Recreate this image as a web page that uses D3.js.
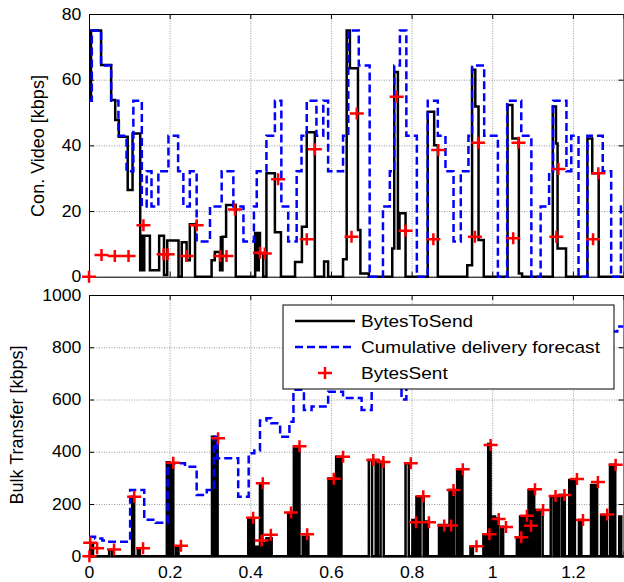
<!DOCTYPE html>
<html>
<head>
<meta charset="utf-8">
<script src="https://cdn.jsdelivr.net/npm/d3@7"></script>
<style>
  body { margin: 0; background: #fff; }
  svg { display: block; font-family: "Liberation Sans", Arial, sans-serif; }
</style>
</head>
<body>
<svg id="chart" width="624" height="582"></svg>
<script>
// ---- data (time in s, values in kbps) ----
// top panel: steps start at [t, value]
const videoToSend = [[0,53.6],[0.005,75],[0.030,64.5],[0.055,53.8],[0.065,47.7],[0.074,42.6],[0.096,26.4],[0.108,43.6],
  [0.127,2],[0.129,12.5],[0.131,2],[0.133,12.5],[0.135,2],[0.137,12.5],[0.151,2],[0.174,12.5],[0.186,0.5],[0.194,11],
  [0.222,0],[0.230,10.5],[0.242,5],[0.250,16],[0.263,0],[0.304,5],[0.312,7.5],[0.325,2],[0.327,12],[0.329,2],[0.331,12.2],
  [0.340,21.8],[0.364,0],[0.412,13.3],[0.415,2],[0.417,13.3],[0.419,2],[0.421,13.3],[0.424,7],[0.432,0],[0.440,31.5],
  [0.461,13.5],[0.476,0],[0.511,4.5],[0.528,15.2],[0.540,44],[0.560,0],[0.583,4.6],[0.593,0],[0.630,5.3],[0.639,75],
  [0.647,63.5],[0.667,14.2],[0.673,1],[0.694,0],[0.752,8.6],[0.757,62.3],[0.766,8.6],[0.770,19.3],[0.785,0],[0.840,50.2],
  [0.856,40],[0.865,0],[0.938,3.5],[0.950,63],[0.958,51.8],[0.966,11.2],[0.979,0],[1.038,52.3],[1.050,42.1],[1.066,1],
  [1.074,0],[1.150,51.8],[1.158,40.6],[1.162,8.6],[1.183,0],[1.236,42.1],[1.248,31.5],[1.264,0]];

const videoForecast = [[0,53.6],[0.007,75],[0.030,64.3],[0.055,53.6],[0.073,42.9],[0.093,32.1],[0.110,53.6],[0.131,21.4],
  [0.143,32.1],[0.155,21.4],[0.172,32.1],[0.197,42.9],[0.221,32.1],[0.234,21.4],[0.250,32.1],[0.267,10.7],[0.300,21.4],
  [0.329,32.1],[0.358,21.4],[0.383,10.7],[0.409,21.4],[0.416,32.1],[0.440,42.9],[0.461,53.6],[0.477,21.4],[0.494,10.7],
  [0.515,32.1],[0.527,42.9],[0.540,53.6],[0.564,42.9],[0.581,53.6],[0.593,32.1],[0.630,42.9],[0.643,75],[0.669,64.3],
  [0.696,0],[0.729,21.4],[0.746,32.1],[0.757,64.3],[0.771,75],[0.787,42.9],[0.813,0],[0.840,53.6],[0.865,42.9],[0.884,32.1],
  [0.904,10.7],[0.922,32.1],[0.941,42.9],[0.950,64.3],[0.980,42.9],[1.014,0],[1.037,53.6],[1.072,42.9],[1.097,0],[1.120,21.4],
  [1.141,32.1],[1.151,53.6],[1.184,32.1],[1.196,42.9],[1.214,0],[1.236,42.9],[1.274,32.1],[1.295,0],[1.319,21.4]];

const videoSent = [[0,0],[0.031,6.6],[0.064,6.3],[0.098,6.3],[0.135,15.7],[0.185,6.8],[0.195,6.8],[0.242,6.3],[0.267,15.7],
  [0.325,6.3],[0.341,6.3],[0.362,20.5],[0.424,7.3],[0.436,7.1],[0.469,29.7],[0.540,11.4],[0.560,38.8],[0.651,12.2],
  [0.664,49.7],[0.763,54.8],[0.785,14],[0.854,11.4],[0.866,38.6],[0.957,12.2],[0.965,40.8],[1.052,11.7],[1.065,40.8],
  [1.159,12.2],[1.164,32.8],[1.250,11.4],[1.263,31.5]];

// bottom panel: bytes to send pulses [start, end, value]
const bulkToSend = [[0.004,0.010,45],[0.050,0.057,24],[0.107,0.112,228],[0.121,0.126,24],[0.193,0.199,360],[0.204,0.209,352],
  [0.216,0.222,35],[0.305,0.311,458],[0.313,0.319,445],[0.395,0.401,145],[0.404,0.409,139],[0.414,0.420,37],[0.424,0.430,273],
  [0.432,0.438,50],[0.440,0.446,69],[0.447,0.453,69],[0.494,0.500,165],[0.501,0.507,165],[0.508,0.513,413],[0.516,0.522,413],
  [0.530,0.536,75],[0.538,0.544,75],[0.594,0.600,298],[0.602,0.608,290],[0.613,0.618,381],[0.621,0.626,381],[0.694,0.702,369],
  [0.711,0.716,369],[0.723,0.731,362],[0.785,0.793,356],[0.802,0.807,139],[0.812,0.818,228],[0.822,0.830,228],[0.835,0.840,133],
  [0.868,0.874,120],[0.876,0.882,120],[0.884,0.890,120],[0.894,0.899,254],[0.901,0.906,254],[0.913,0.919,330],[0.921,0.926,330],
  [0.946,0.952,37],[0.978,0.984,82],[0.990,0.996,430],[1.001,1.007,152],[1.009,1.015,145],[1.022,1.027,113],[1.061,1.067,69],
  [1.069,1.075,152],[1.079,1.085,152],[1.090,1.096,254],[1.098,1.104,254],[1.110,1.116,177],[1.118,1.125,177],[1.145,1.152,228],
  [1.154,1.160,228],[1.166,1.173,235],[1.174,1.180,235],[1.191,1.197,292],[1.199,1.205,292],[1.215,1.221,139],[1.245,1.251,273],
  [1.254,1.260,273],[1.270,1.275,158],[1.278,1.284,158],[1.292,1.298,350],[1.299,1.305,350],[1.315,1.320,152]];

const bulkForecast = [[0,75],[0.015,68],[0.033,60],[0.045,56],[0.102,254],[0.137,140],[0.165,128],[0.195,356],[0.238,343],
  [0.267,235],[0.292,254],[0.310,458],[0.318,375],[0.370,228],[0.396,394],[0.410,405],[0.424,520],[0.440,528],[0.452,509],
  [0.474,458],[0.497,515],[0.507,637],[0.533,560],[0.552,573],[0.593,630],[0.630,606],[0.676,560],[0.701,660],[0.740,700],
  [0.775,600],[0.787,720],[0.850,760],[0.950,800],[1.050,830],[1.150,845],[1.250,855],[1.294,860],[1.310,879]];

const bulkSent = [[0.001,0],[0.003,52],[0.020,31],[0.062,26],[0.112,228],[0.134,31],[0.209,358],[0.228,40],[0.320,452],
  [0.407,148],[0.428,60],[0.431,280],[0.451,82],[0.501,168],[0.522,421],[0.541,84],[0.607,297],[0.630,381],[0.705,369],
  [0.730,361],[0.798,356],[0.811,130],[0.829,230],[0.843,130],[0.881,118],[0.898,118],[0.904,254],[0.927,333],[0.961,38],
  [0.993,84],[0.996,426],[1.016,143],[1.034,112],[1.072,73],[1.086,155],[1.096,117],[1.106,257],[1.126,177],[1.157,231],
  [1.179,235],[1.210,296],[1.225,139],[1.262,284],[1.285,160],[1.306,350]];

const xTicks = [0, 0.2, 0.4, 0.6, 0.8, 1, 1.2];
const videoTicks = [0, 20, 40, 60, 80];
const bulkTicks = [0, 200, 400, 600, 800, 1000];
const legendNames = ["BytesToSend", "Cumulative delivery forecast", "BytesSent"];

// ---- scales ----
const xMax = 1.3255;
const x = d3.scaleLinear().domain([0, xMax]).range([89, 623.5]);
const yTop = d3.scaleLinear().domain([0, 80]).range([276.7, 14]);
const yBot = d3.scaleLinear().domain([0, 1000]).range([556.3, 295]);

const svg = d3.select("#chart");
const plus = "M-7,0H7M0,-6V6";

function withEnd(arr) { return arr.concat([[xMax, arr[arr.length - 1][1]]]); }
function pulses(arr) {
  var pts = [[0, 0]];
  arr.forEach(function(d) { pts.push([d[0], d[2]]); pts.push([d[1], 0]); });
  pts.push([xMax, 0]);
  return pts;
}

function panel(y, ticks, showXLabels, id) {
  const [y0, y1] = y.range();
  const left = x.range()[0], right = x.range()[1];

  // grid
  svg.append("g").attr("transform", "translate(0," + y0 + ")")
    .call(d3.axisBottom(x).tickValues(xTicks).tickSize(-(y0 - y1)).tickFormat(""))
    .call(g => g.select(".domain").remove())
    .selectAll("line").attr("stroke", "#999").attr("stroke-dasharray", "1,1.5");
  svg.append("g").attr("transform", "translate(" + left + ",0)")
    .call(d3.axisLeft(y).tickValues(ticks).tickSize(-(right - left)).tickFormat(""))
    .call(g => g.select(".domain").remove())
    .selectAll("line").attr("stroke", "#999").attr("stroke-dasharray", "1,1.5");

  svg.append("clipPath").attr("id", id)
    .append("rect").attr("x", left).attr("y", y1 - 2).attr("width", right - left).attr("height", y0 - y1 + 4);

  // axes with inward ticks
  const ax = [
    svg.append("g").attr("transform", "translate(0," + y0 + ")")
      .call(d3.axisBottom(x).tickValues(xTicks).tickSize(-5).tickPadding(0).tickFormat(showXLabels ? d3.format("~g") : "")),
    svg.append("g").attr("transform", "translate(0," + y1 + ")")
      .call(d3.axisTop(x).tickValues(xTicks).tickSize(-5).tickFormat("")),
    svg.append("g").attr("transform", "translate(" + left + ",0)")
      .call(d3.axisLeft(y).tickValues(ticks).tickSize(-5).tickPadding(7).tickFormat(d3.format("d"))),
    svg.append("g").attr("transform", "translate(" + right + ",0)")
      .call(d3.axisRight(y).tickValues(ticks).tickSize(-5).tickFormat(""))
  ];
  ax.forEach(function(g) {
    g.select(".domain").attr("stroke", "#000").attr("stroke-width", 1);
    g.selectAll("line").attr("stroke", "#000");
    g.selectAll("text").attr("font-size", 16).attr("fill", "#000")
      .attr("font-family", "'Liberation Sans', Arial, sans-serif");
  });
  ax[0].selectAll("text").attr("y", 21.5).attr("dy", 0).attr("transform", "scale(1.1,1)");
  ax[2].selectAll("text").attr("transform", "scale(1.1,1)");
}

panel(yTop, videoTicks, false, "clipTop");
panel(yBot, bulkTicks, true, "clipBot");

function stepLine(y) {
  return d3.line().x(d => x(d[0])).y(d => y(d[1])).curve(d3.curveStepAfter);
}

// top panel series
var gTop = svg.append("g").attr("clip-path", "url(#clipTop)");
gTop.append("path").attr("d", stepLine(yTop)(withEnd(videoToSend)))
  .attr("fill", "none").attr("stroke", "#000").attr("stroke-width", 2.5);
gTop.append("path").attr("d", stepLine(yTop)(withEnd(videoForecast)))
  .attr("fill", "none").attr("stroke", "#0000ff").attr("stroke-width", 2.5).attr("stroke-dasharray", "8,4");
svg.append("g").selectAll("path").data(videoSent).enter().append("path")
  .attr("d", plus).attr("transform", d => "translate(" + x(d[0]) + "," + yTop(d[1]) + ")")
  .attr("stroke", "#ff0000").attr("stroke-width", 2.5).attr("fill", "none");

// bottom panel series
var gBot = svg.append("g").attr("clip-path", "url(#clipBot)");
gBot.append("path").attr("d", stepLine(yBot)(pulses(bulkToSend)))
  .attr("fill", "none").attr("stroke", "#000").attr("stroke-width", 2.5);
gBot.append("path").attr("d", stepLine(yBot)(withEnd(bulkForecast)))
  .attr("fill", "none").attr("stroke", "#0000ff").attr("stroke-width", 2.5).attr("stroke-dasharray", "8,4");
svg.append("g").selectAll("path").data(bulkSent).enter().append("path")
  .attr("d", plus).attr("transform", d => "translate(" + x(d[0]) + "," + yBot(d[1]) + ")")
  .attr("stroke", "#ff0000").attr("stroke-width", 2.5).attr("fill", "none");

// axis labels
svg.append("text").attr("transform", "translate(44.2,146) rotate(-90)")
  .attr("text-anchor", "middle").attr("font-size", 18).text("Con. Video [kbps]");
svg.append("text").attr("transform", "translate(22.7,425) rotate(-90)")
  .attr("text-anchor", "middle").attr("font-size", 18).text("Bulk Transfer [kbps]");

// legend
var legend = svg.append("g");
legend.append("rect").attr("x", 283).attr("y", 305).attr("width", 331).attr("height", 84)
  .attr("fill", "#fff").attr("stroke", "#000").attr("stroke-width", 1);
var rows = [321, 347, 373];
legend.append("line").attr("x1", 295).attr("x2", 355).attr("y1", rows[0]).attr("y2", rows[0])
  .attr("stroke", "#000").attr("stroke-width", 2.5);
legend.append("line").attr("x1", 295).attr("x2", 355).attr("y1", rows[1]).attr("y2", rows[1])
  .attr("stroke", "#0000ff").attr("stroke-width", 2.5).attr("stroke-dasharray", "8,4");
legend.append("path").attr("d", plus).attr("transform", "translate(325," + rows[2] + ")")
  .attr("stroke", "#ff0000").attr("stroke-width", 2.5).attr("fill", "none");
legend.selectAll("text.lbl").data(legendNames).enter().append("text")
  .attr("class", "lbl")
  .attr("transform", (d, i) => "translate(361," + (rows[i] + 6) + ") scale(1.12,1)")
  .attr("font-size", 17).text(d => d);
</script>
</body>
</html>
